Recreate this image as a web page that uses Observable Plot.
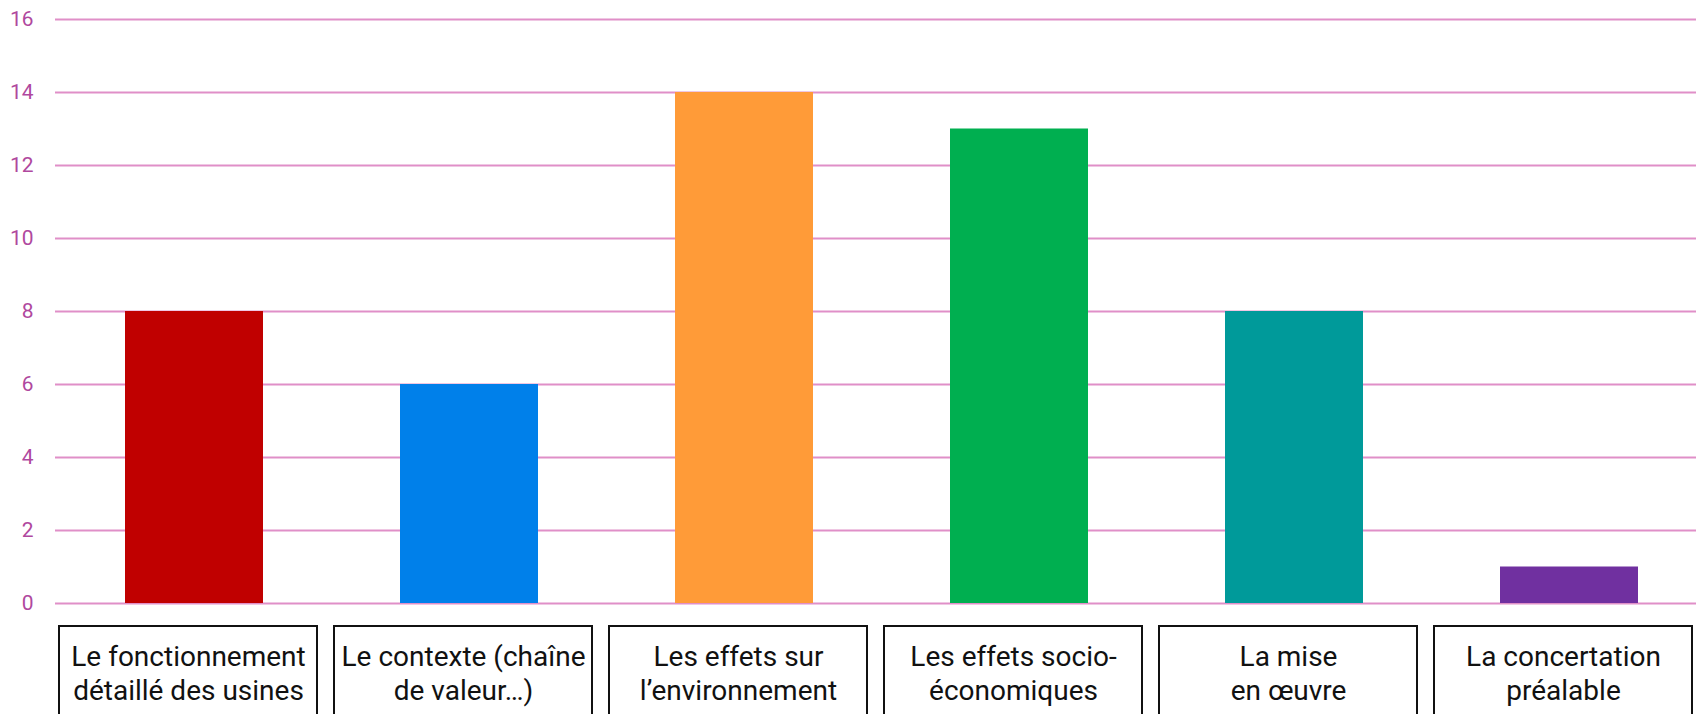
<!DOCTYPE html>
<html>
<head>
<meta charset="utf-8">
<script src="https://cdn.jsdelivr.net/npm/d3@7"></script>
<script src="https://cdn.jsdelivr.net/npm/@observablehq/plot@0.6"></script>
<style>
  html, body { margin: 0; padding: 0; background: #fff; }
  #chart { width: 1696px; height: 714px; overflow: hidden; }
  #chart svg { display: block; }
</style>
</head>
<body>
<div id="chart"></div>
<script>
const categories = [
  "Le fonctionnement\ndétaillé des usines",
  "Le contexte (chaîne\nde valeur…)",
  "Les effets sur\nl’environnement",
  "Les effets socio-\néconomiques",
  "La mise\nen œuvre",
  "La concertation\npréalable"
];
const values = [8, 6, 14, 13, 8, 1];
const barColors = ["#c00000", "#0080ea", "#ff9b38", "#00af50", "#009a9a", "#7030a0"];
const yTicks = [0, 2, 4, 6, 8, 10, 12, 14, 16];

const data = categories.map((c, i) => ({label: c, value: values[i], color: barColors[i]}));

const chart = Plot.plot({
  width: 1696,
  height: 714,
  marginTop: 19,
  marginBottom: 111,
  marginLeft: 55,
  marginRight: -11,
  style: {fontFamily: "Roboto, 'Noto Sans', sans-serif", background: "#fff"},
  x: {domain: categories, paddingInner: 0.5, paddingOuter: 0.25, axis: null},
  y: {domain: [0, 16], axis: null},
  marks: [
    Plot.ruleY(yTicks, {stroke: "#e08fc8", strokeWidth: 2}),
    Plot.barY(data, {x: "label", y: "value", fill: "color"}),
    Plot.axisY(yTicks, {
      tickSize: 0, tickPadding: 22, fontSize: 21, fill: "#b0489e", anchor: "left", label: null
    }),
    Plot.rect(data, {
      x: "label", y1: 0, y2: 0,
      dx: -6, dy: 23,
      insetLeft: -60, insetRight: -60, insetBottom: -110,
      fill: "none", stroke: "#111", strokeWidth: 2
    }),
    Plot.text(data, {
      x: "label", text: "label", frameAnchor: "bottom",
      lineAnchor: "top", dy: 38, dx: -6,
      fontSize: 28, lineHeight: 1.22, fill: "#111"
    })
  ]
});
document.getElementById("chart").appendChild(chart);
</script>
</body>
</html>
